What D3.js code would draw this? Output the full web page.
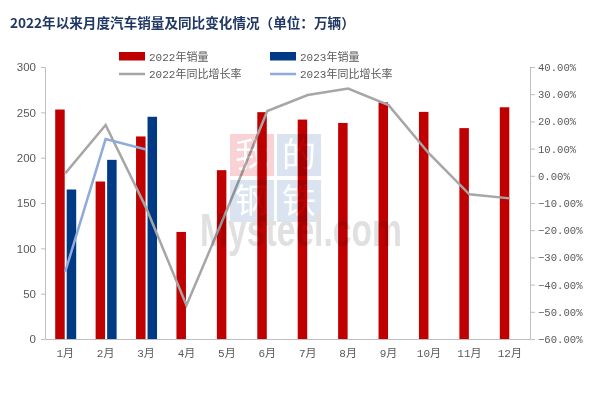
<!DOCTYPE html>
<html>
<head>
<meta charset="utf-8">
<script src="https://cdn.jsdelivr.net/npm/d3@7/dist/d3.min.js"></script>
<style>
  body { margin: 0; background: #fff; }
  svg { display: block; }
</style>
</head>
<body>
<svg id="chart" width="602" height="397"></svg>
<script>
// data
const months = ["1月", "2月", "3月", "4月", "5月", "6月", "7月", "8月", "9月", "10月", "11月", "12月"];
const sales2022 = [253.1, 173.7, 223.4, 118.1, 186.2, 250.2, 242.0, 238.3, 261.0, 250.5, 232.6, 255.6];
const sales2023 = [164.9, 197.6, 245.1];
const growth2022 = [0.009, 0.187, -0.117, -0.476, -0.126, 0.238, 0.297, 0.321, 0.26, 0.082, -0.068, -0.083];
const growth2023 = [-0.353, 0.135, 0.097];
const leftTicks = [0, 50, 100, 150, 200, 250, 300];
const rightTicks = [-0.6, -0.5, -0.4, -0.3, -0.2, -0.1, 0, 0.1, 0.2, 0.3, 0.4];

const svg = d3.select("#chart");
const cjk = "'Noto Sans CJK SC', sans-serif";
const mono = "'Liberation Mono', 'Noto Sans CJK SC', monospace";

const x = d3.scaleBand().domain(months).range([45, 530]);
const sub = d3.scaleBand().domain(["2022", "2023"]).range([-10, 11]).paddingInner(0.174);
const y = d3.scaleLinear().domain([0, 300]).range([339, 67]);
const y2 = d3.scaleLinear().domain([-0.6, 0.4]).range([339, 67]);
const cx = m => x(m) + x.bandwidth() / 2;

// title
svg.append("text")
  .attr("x", 10).attr("y", 28)
  .attr("font-family", cjk).attr("font-weight", 700).attr("font-size", 13.6)
  .attr("fill", "#1f3864")
  .text("2022年以来月度汽车销量及同比变化情况（单位：万辆）");

// axes
const gL = svg.append("g").attr("transform", "translate(45,0)")
  .call(d3.axisLeft(y).tickValues(leftTicks).tickSize(4).tickPadding(5));
gL.selectAll("text").attr("font-family", "'Liberation Sans', Arial, sans-serif").attr("font-size", 11.5).attr("fill", "#595959");

const gR = svg.append("g").attr("transform", "translate(530,0)")
  .call(d3.axisRight(y2).tickValues(rightTicks).tickSize(5).tickPadding(3).tickFormat(d3.format(".2%")));
gR.selectAll("text").attr("font-family", mono).attr("font-size", 10.6).attr("fill", "#595959");

const gB = svg.append("g").attr("transform", "translate(0,339)")
  .call(d3.axisBottom(x).tickSize(0).tickPadding(10));
gB.selectAll("text").attr("font-family", mono).attr("font-size", 11).attr("fill", "#595959");

svg.selectAll(".domain, .tick line").attr("stroke", "#bfbfbf");

// watermark (drawn with multiply so the bars darken beneath it)
const wm = svg.append("g");
const tiles = [
  {ch: "我", x: 230, y: 134, fill: "#f9d2d6"},
  {ch: "的", x: 277, y: 134, fill: "#dae4f1"},
  {ch: "钢", x: 230, y: 180, fill: "#dae4f1"},
  {ch: "铁", x: 277, y: 180, fill: "#dae4f1"}
];

// bars
svg.append("g").selectAll("rect")
  .data(sales2022.map((v, i) => [months[i], v]))
  .join("rect")
  .attr("x", d => cx(d[0]) + sub("2022"))
  .attr("width", sub.bandwidth())
  .attr("y", d => y(d[1]))
  .attr("height", d => y(0) - y(d[1]))
  .attr("fill", "#c00000");

svg.append("g").selectAll("rect")
  .data(sales2023.map((v, i) => [months[i], v]))
  .join("rect")
  .attr("x", d => cx(d[0]) + sub("2023"))
  .attr("width", sub.bandwidth())
  .attr("y", d => y(d[1]))
  .attr("height", d => y(0) - y(d[1]))
  .attr("fill", "#003a84");

// growth lines
const line = d3.line().x(d => cx(d[0])).y(d => y2(d[1]));
svg.append("path")
  .datum(growth2022.map((v, i) => [months[i], v]))
  .attr("d", line).attr("fill", "none")
  .attr("stroke", "#a6a6a6").attr("stroke-width", 2.5);
svg.append("path")
  .datum(growth2023.map((v, i) => [months[i], v]))
  .attr("d", line).attr("fill", "none")
  .attr("stroke", "#8faadc").attr("stroke-width", 2.5);

// legend
const legend = [
  {name: "2022年销量", type: "rect", color: "#c00000", x: 119, y: 57},
  {name: "2023年销量", type: "rect", color: "#003a84", x: 270, y: 57},
  {name: "2022年同比增长率", type: "line", color: "#a6a6a6", x: 119, y: 74},
  {name: "2023年同比增长率", type: "line", color: "#8faadc", x: 270, y: 74}
];
const lg = svg.append("g").selectAll("g").data(legend).join("g")
  .attr("transform", d => `translate(${d.x},${d.y})`);
lg.filter(d => d.type === "rect").append("rect")
  .attr("x", 0).attr("y", -5).attr("width", 26).attr("height", 8.5)
  .attr("fill", d => d.color);
lg.filter(d => d.type === "line").append("line")
  .attr("x1", 0).attr("x2", 26).attr("y1", 0).attr("y2", 0)
  .attr("stroke", d => d.color).attr("stroke-width", 2.5);
lg.append("text")
  .attr("x", 30).attr("y", 4)
  .attr("font-family", mono).attr("font-size", 11).attr("fill", "#595959")
  .text(d => d.name);

// watermark on top
const wmTop = svg.append("g").style("mix-blend-mode", "multiply");
wmTop.selectAll("rect").data(tiles).join("rect")
  .attr("x", d => d.x).attr("y", d => d.y).attr("width", 44).attr("height", 42)
  .attr("fill", d => d.fill);
wmTop.selectAll("text.ch").data(tiles).join("text").attr("class", "ch")
  .attr("x", d => d.x + 22).attr("y", d => d.y + 33)
  .attr("text-anchor", "middle")
  .attr("font-family", cjk).attr("font-weight", 400).attr("font-size", 34)
  .attr("fill", "#fff").text(d => d.ch);
wmTop.append("text")
  .attr("x", 200).attr("y", 246)
  .attr("font-family", "'Liberation Sans', Arial, sans-serif").attr("font-weight", 700).attr("font-size", 46)
  .attr("textLength", 202).attr("lengthAdjust", "spacingAndGlyphs")
  .attr("fill", "#e0e0e0")
  .text("Mysteel.com");
</script>
</body>
</html>
